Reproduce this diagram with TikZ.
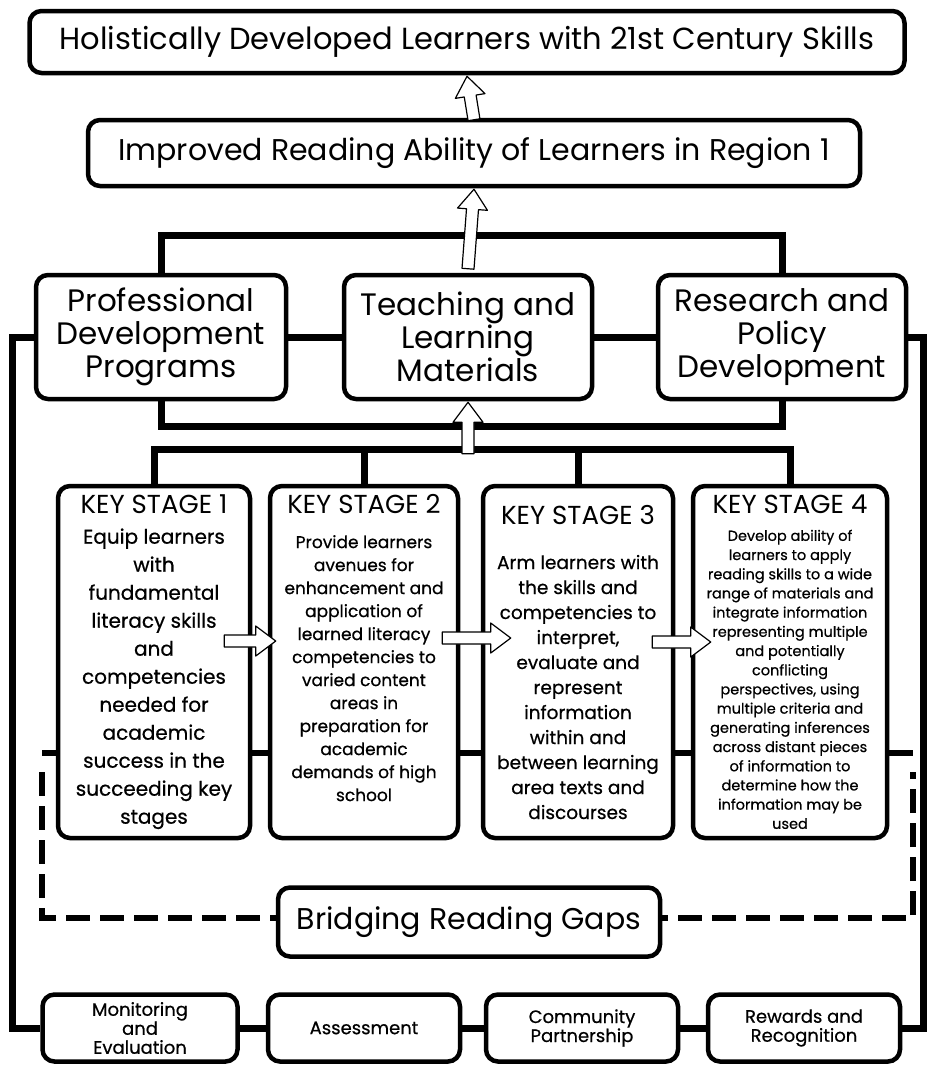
\documentclass[tikz,border=0pt]{standalone}
\usepackage{fontspec}
\setmainfont{Poppins}
\newfontfamily\stagefont{Poppins}[FakeBold=0.6]
\usetikzlibrary{arrows.meta, calc}

\begin{document}
\begin{tikzpicture}[
		x=1pt, y=-1pt, % pixel-like grid, y grows downwards
		box/.style={draw, line width=4.5pt, rounded corners=12pt, fill=white, align=center, inner sep=2pt},
		pillar/.style={box, minimum width=248, minimum height=124, font=\fontsize{31}{33}\selectfont},
		stagebox/.style={box, minimum height=352},
		support/.style={box, minimum width=192, minimum height=67, font=\stagefont\fontsize{18}{19}\selectfont},
		link/.style={line width=7pt},
		gapline/.style={line width=6pt, dash pattern=on 24pt off 10pt},
		% hollow block arrow from start to target
		hollow/.style={draw, line width=1.2pt, fill=white, line join=round,
			to path={let \p1=(\tikztostart), \p2=(\tikztotarget),
				\n1={atan2(\y2-\y1,\x2-\x1)}, \n2={veclen(\x2-\x1,\y2-\y1)} in
				[shift={(\p1)}, rotate=\n1]
				(0,-6) -- ({\n2-20},-6) -- ({\n2-20},-15) -- (\n2,0)
				-- ({\n2-20},15) -- ({\n2-20},6) -- (0,6) -- cycle}}
		]
		\useasboundingbox (0,0) rectangle (929,1068);
		
		% --- 1. Bridging frame (behind the key stages) ---
		\draw[line width=6pt] (42,753) -- (913,753);
		\draw[gapline] (42,772) -- (42,918) -- (913,918) -- (913,772);
		
		% --- 2. Outcomes ---
		\node[box, minimum width=875, minimum height=62, font=\fontsize{30.5}{32}\selectfont] (holistic) at (467,42)
		{Holistically Developed Learners with 21st Century Skills};
		\node[box, minimum width=772, minimum height=66, font=\fontsize{30}{32}\selectfont] (improved) at (474,153)
		{Improved Reading Ability of Learners in Region 1};
		
		% --- 3. Three pillars ---
		\node[pillar, minimum width=250] (pdp) at (161,337) {Professional\\Development\\Programs};
		\node[pillar] (tlm) at (468,337) {Teaching and\\Learning\\Materials};
		\node[pillar] (rpd) at (782,337) {Research and\\Policy\\Development};
		
		% --- 4. Key stages ---
		\node[stagebox, minimum width=192, font=\stagefont\fontsize{20}{28}\selectfont] (ks1) at (154,662)
		{{\rmfamily\fontsize{26}{30}\selectfont KEY STAGE 1}\\[2pt]
			Equip learners\\with\\fundamental\\literacy skills\\and\\competencies\\needed for\\academic\\success in the\\succeeding key\\stages};
		\node[stagebox, minimum width=188, font=\stagefont\fontsize{17}{23}\selectfont] (ks2) at (364,662)
		{{\rmfamily\fontsize{26}{30}\selectfont KEY STAGE 2}\\[12pt]
			Provide learners\\avenues for\\enhancement and\\application of\\learned literacy\\competencies to\\varied content\\areas in\\preparation for\\academic\\demands of high\\school\\[6pt]};
		\node[stagebox, minimum width=190, font=\stagefont\fontsize{18.5}{25}\selectfont] (ks3) at (578,662)
		{{\rmfamily\fontsize{26}{30}\selectfont KEY STAGE 3}\\[20pt]
			Arm learners with\\the skills and\\competencies to\\interpret,\\evaluate and\\represent\\information\\within and\\between learning\\area texts and\\discourses};
		\node[stagebox, minimum width=194, font=\stagefont\fontsize{14.5}{19.2}\selectfont] (ks4) at (790,662)
		{{\rmfamily\fontsize{26}{30}\selectfont KEY STAGE 4}\\[8pt]
			Develop ability of\\learners to apply\\reading skills to a wide\\range of materials and\\integrate information\\representing multiple\\and potentially\\conflicting\\perspectives, using\\multiple criteria and\\generating inferences\\across distant pieces\\of information to\\determine how the\\information may be\\used};
		
		% --- 5. Bridging and support ---
		\node[box, minimum width=382, minimum height=69, font=\fontsize{30}{32}\selectfont] (bridge) at (469,922) {Bridging Reading Gaps};
		\node[support, minimum width=195] (me) at (140,1028) {Monitoring\\and\\Evaluation};
		\node[support] (assess) at (364,1028) {Assessment};
		\node[support] (cp) at (582,1028) {Community\\Partnership};
		\node[support] (rr) at (804,1028) {Rewards and\\Recognition};
		
		% --- 6. Links ---
		\draw[link] (pdp.north) -- ++(0,-37) -| (rpd.north);
		\draw[link] (pdp.south) -- ++(0,25) -| (rpd.south);
		\draw[link] (pdp.east) -- (tlm.west);
		\draw[link] (tlm.east) -- (rpd.west);
		\draw[link] (pdp.west) -- ++(-21,0) |- (me.west);
		\draw[link] (rpd.east) -- ++(15,0) |- (rr.east);
		\draw[link] (me.east) -- (assess.west);
		\draw[link] (assess.east) -- (cp.west);
		\draw[link] (cp.east) -- (rr.west);
		\draw[link] (ks1.north) -- ++(0,-34) coordinate (kstop) -| (ks4.north);
		\draw[link] (ks2.north) -- (ks2.north |- kstop);
		\draw[link] (ks3.north) -- (ks3.north |- kstop);
		
		% --- 7. Hollow arrows ---
		\draw[hollow] ([yshift=-2pt]improved.north) to ([yshift=-1pt]holistic.south);
		\draw[hollow] ([yshift=4pt]tlm.north) to ([yshift=-1pt]improved.south);
		\draw[hollow] ([yshift=-4pt]kstop -| tlm.south) to ([yshift=-1pt]tlm.south);
		\draw[hollow] ($(ks1.east)+(-28,-21)$) to ($(ks2.west)+(8,-21)$);
		\draw[hollow] ($(ks2.east)+(-18,-24)$) to ($(ks3.west)+(30,-24)$);
		\draw[hollow] ($(ks3.east)+(-23,-20)$) to ($(ks4.west)+(20,-20)$);
		
	\end{tikzpicture}
\end{document}
